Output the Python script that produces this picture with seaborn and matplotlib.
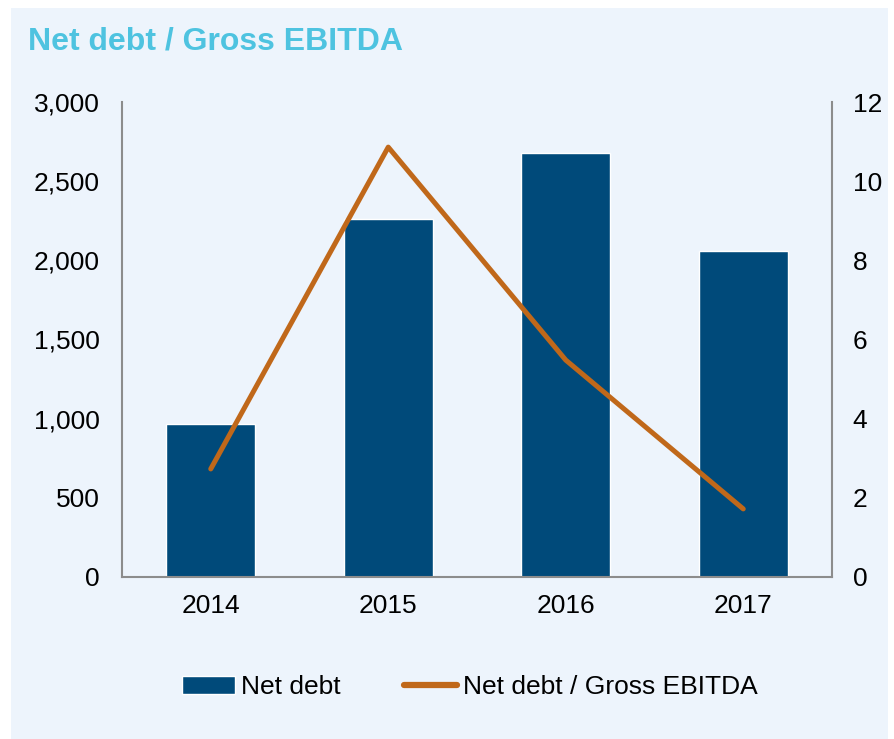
import pandas as pd
import matplotlib.pyplot as plt
import seaborn as sns
from matplotlib.patches import Rectangle
from matplotlib.lines import Line2D
from matplotlib.ticker import FuncFormatter

# Datos
years = ["2014", "2015", "2016", "2017"]
net_debt = [965, 2260, 2675, 2062]
debt_ebitda = [2.73, 10.86, 5.48, 1.72]

bar_color = "#004A7A"
line_color = "#C0681A"
bg_color = "#EDF4FC"

sns.set_style("white")
plt.rcParams['font.family'] = ['Liberation Sans', 'DejaVu Sans']
plt.rcParams['text.color'] = "black"

df = pd.DataFrame({"year": years, "net_debt": net_debt, "ratio": debt_ebitda})

fig = plt.figure(figsize=(8.95, 7.39), dpi=100)
fig.patch.set_facecolor("white")
fig.patches.append(Rectangle((11 / 895, 0), 877 / 895, 1 - 8 / 739,
                             transform=fig.transFigure, facecolor=bg_color,
                             edgecolor="none", zorder=-10))

ax = fig.add_axes([122 / 895, 1 - 577 / 739, 710 / 895, 475 / 739])
ax.set_facecolor(bg_color)
sns.barplot(data=df, x="year", y="net_debt", color=bar_color, width=0.5,
            saturation=1, ax=ax, zorder=2)
ax.set_ylim(0, 3000)
ax.set_yticks(range(0, 3001, 500))
ax.yaxis.set_major_formatter(FuncFormatter(lambda v, p: f"{int(v):,}"))
ax.set_xlabel("")
ax.set_ylabel("")

ax2 = ax.twinx()
sns.lineplot(x=range(len(years)), y=debt_ebitda, color=line_color, lw=3.6,
             ax=ax2, solid_capstyle="round", zorder=3)
ax2.set_ylim(0, 12)
ax2.set_yticks(range(0, 13, 2))
ax.set_xlim(-0.5, 3.5)

for a in (ax, ax2):
    for s in a.spines.values():
        s.set_visible(False)
    a.tick_params(labelsize=19, length=0, colors="black")
for side in ("left", "bottom"):
    ax.spines[side].set_visible(True)
    ax.spines[side].set_color("#8C8C8C")
    ax.spines[side].set_linewidth(1.5)
ax2.spines["right"].set_visible(True)
ax2.spines["right"].set_color("#8C8C8C")
ax2.spines["right"].set_linewidth(1.5)
ax.tick_params(axis="y", pad=16)
ax.tick_params(axis="x", pad=12)
ax2.tick_params(axis="y", pad=15)

fig.text(28 / 895, 1 - 42 / 739, "Net debt / Gross EBITDA", fontsize=23,
         fontweight="bold", color="#4EC3E0", va="center", ha="left")

handles = [Rectangle((0, 0), 1, 1, facecolor=bar_color),
           Line2D([], [], color=line_color, lw=4.5, solid_capstyle="round")]
fig.legend(handles, ["Net debt", "Net debt / Gross EBITDA"],
           loc="center", bbox_to_anchor=(470 / 895, 1 - 687 / 739), ncol=2,
           frameon=False, fontsize=19, handlelength=2.0, handletextpad=0.23,
           columnspacing=2.4, labelcolor="black")

fig.savefig("out.png", dpi=100, facecolor="white")
